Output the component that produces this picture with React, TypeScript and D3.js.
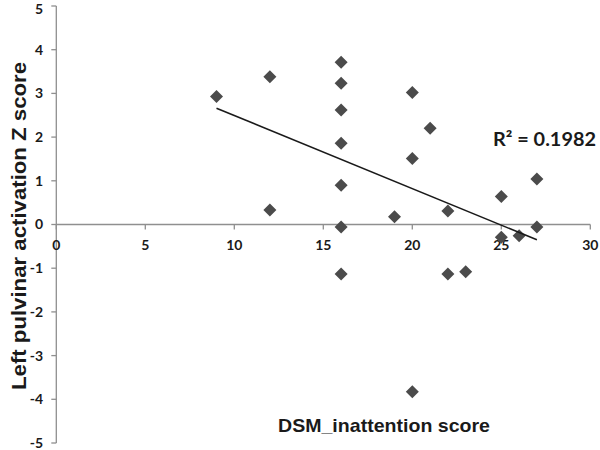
import React from "react";
import * as d3 from "d3";

const xValues = [9, 12, 12, 16, 16, 16, 16, 16, 16, 16, 19, 20, 20, 20, 21, 22, 22, 23, 25, 25, 26, 27, 27];
const yValues = [2.93, 3.38, 0.33, 3.71, 3.23, 2.62, 1.86, 0.9, -0.06, -1.13, 0.18, 3.02, 1.51, -3.83, 2.2, 0.31, -1.13, -1.08, 0.64, -0.29, -0.26, 1.04, -0.06];
const trendX = [9, 27];
const trendY = [2.66, -0.35];
const xTicks = [0, 5, 10, 15, 20, 25, 30];
const yTicks = [5, 4, 3, 2, 1, 0, -1, -2, -3, -4, -5];
const xTitle = "DSM_inattention score";
const yTitle = "Left pulvinar activation Z score";
const r2Label = "R² = 0.1982";

const W = 600;
const H = 450;

export default function App() {
  const x = d3.scaleLinear().domain([0, 30]).range([56.3, 590.3]);
  const y = d3.scaleLinear().domain([-5, 5]).range([443, 6]);
  const axisColor = "#8f8f8f";
  const markColor = "#4b4b4b";
  const tickFont = "Lato, 'Open Sans', sans-serif";
  const titleFont = "'Liberation Sans', Arial, sans-serif";
  const d = 6.5;
  const diamond = `M0,${-d}L${d},0L0,${d}L${-d},0Z`;
  const line = d3
    .line<number>()
    .x((_, i) => x(trendX[i]))
    .y((v) => y(v));

  return (
    <svg
      width={W}
      height={H}
      style={{ position: "absolute", left: 0, top: 0, background: "#fff" }}
    >
      <rect width={W} height={H} fill="#fff" />
      {/* y axis */}
      <line x1={x(0)} x2={x(0)} y1={y(5)} y2={y(-5)} stroke={axisColor} strokeWidth={1.3} />
      {yTicks.map((t) => (
        <g key={"yt" + t}>
          <line x1={x(0) - 5} x2={x(0)} y1={y(t)} y2={y(t)} stroke={axisColor} strokeWidth={1.3} />
          <text
            x={43}
            y={Math.max(y(t), 9.5)}
            dy="0.35em"
            textAnchor="end"
            fontFamily={tickFont}
            fontWeight={700}
            fontSize={14}
            fill="#1a1a1a"
          >
            {t}
          </text>
        </g>
      ))}
      {/* x axis */}
      <line x1={x(0)} x2={x(30)} y1={y(0)} y2={y(0)} stroke={axisColor} strokeWidth={1.3} />
      {xTicks.map((t) => (
        <g key={"xt" + t}>
          <line x1={x(t)} x2={x(t)} y1={y(0)} y2={y(0) + 5} stroke={axisColor} strokeWidth={1.3} />
          <text
            x={x(t)}
            y={y(0) + 21}
            dy="0.35em"
            textAnchor="middle"
            fontFamily={tickFont}
            fontWeight={700}
            fontSize={14}
            fill="#1a1a1a"
          >
            {t}
          </text>
        </g>
      ))}
      {/* points */}
      {xValues.map((xv, i) => (
        <path
          key={"p" + i}
          d={diamond}
          transform={`translate(${x(xv)},${y(yValues[i])})`}
          fill={markColor}
        />
      ))}
      {/* trendline */}
      <path d={line(trendY) || ""} fill="none" stroke="#1a1a1a" strokeWidth={1.6} />
      {/* R2 */}
      <text
        x={493}
        y={146}
        fontFamily={tickFont}
        fontWeight={700}
        fontSize={19}
        fill="#1a1a1a"
        textLength={103}
        lengthAdjust="spacingAndGlyphs"
      >
        {r2Label}
      </text>
      {/* titles */}
      <text
        x={278}
        y={432}
        fontFamily={titleFont}
        fontWeight={700}
        fontSize={19}
        fill="#1a1a1a"
        textLength={212}
        lengthAdjust="spacingAndGlyphs"
      >
        {xTitle}
      </text>
      <text
        transform={`translate(26,${226}) rotate(-90)`}
        textAnchor="middle"
        fontFamily={titleFont}
        fontWeight={700}
        fontSize={21}
        fill="#1a1a1a"
        textLength={328}
        lengthAdjust="spacingAndGlyphs"
      >
        {yTitle}
      </text>
    </svg>
  );
}
